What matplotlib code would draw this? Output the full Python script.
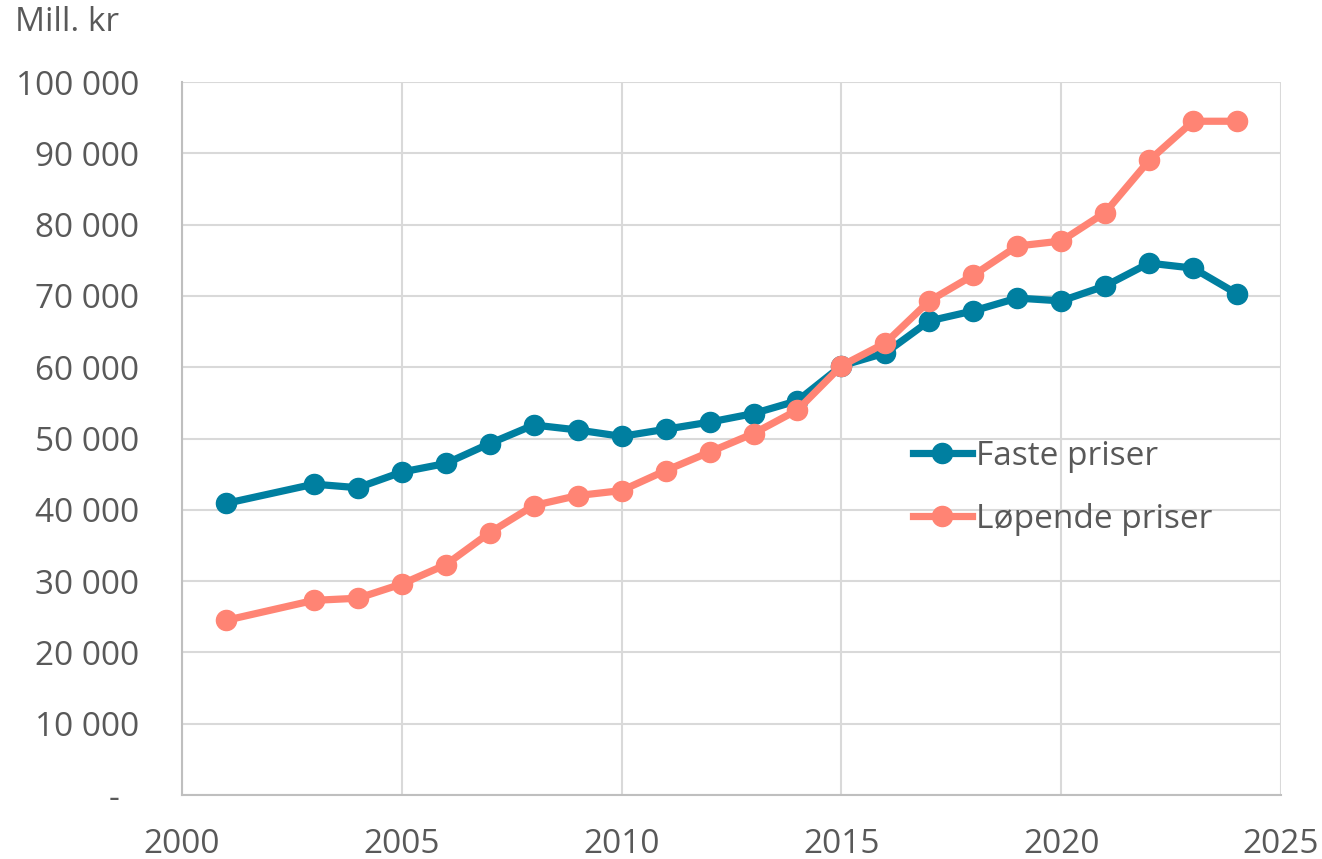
import matplotlib
matplotlib.use("Agg")
import matplotlib.pyplot as plt
from matplotlib.ticker import FuncFormatter

years = [2001, 2003, 2004, 2005, 2006, 2007, 2008, 2009, 2010, 2011, 2012, 2013,
         2014, 2015, 2016, 2017, 2018, 2019, 2020, 2021, 2022, 2023, 2024]
faste = [40900, 43600, 43100, 45300, 46500, 49300, 51900, 51200, 50300, 51300, 52300, 53500,
         55300, 60200, 62000, 66500, 67900, 69700, 69300, 71400, 74600, 73900, 70300]
lopende = [24500, 27300, 27600, 29600, 32300, 36800, 40600, 42000, 42700, 45500, 48100, 50700,
           54000, 60200, 63400, 69300, 72900, 77000, 77700, 81700, 89000, 94500, 94500]

teal = "#007FA0"
salmon = "#FF8474"
grey_text = "#595959"
grid_col = "#D9D9D9"

plt.rcParams['font.family'] = ['Open Sans', 'DejaVu Sans']

fig = plt.figure(figsize=(13.22, 8.59), dpi=100)
ax = fig.add_axes([0.1377, 0.0745, 0.8313, 0.83])

ax.plot(years, faste, color=teal, lw=5.2, marker='o', ms=14.5, label="Faste priser", zorder=3)
ax.plot(years, lopende, color=salmon, lw=5.2, marker='o', ms=14.5, label="Løpende priser", zorder=3)

ax.set_xlim(2000, 2025)
ax.set_ylim(0, 100000)
ax.set_xticks(range(2000, 2026, 5))
ax.set_yticks(range(0, 100001, 10000))

def fmt(v, pos):
    if v == 0:
        return "-\u2007"
    return f"{int(v):,}".replace(",", " ")

ax.yaxis.set_major_formatter(FuncFormatter(fmt))
ax.grid(True, color=grid_col, lw=1.5)
ax.set_axisbelow(True)
for s in ["top", "right"]:
    ax.spines[s].set_visible(False)
for s in ["left", "bottom"]:
    ax.spines[s].set_color("#BFBFBF")
    ax.spines[s].set_linewidth(1.5)

ax.tick_params(length=0, labelsize=24, colors=grey_text)
ax.tick_params(axis='y', pad=31)
ax.tick_params(axis='x', pad=24)

fig.text(0.011, 0.993, "Mill. kr", fontsize=24, color=grey_text, va='top', ha='left')

leg = ax.legend(loc='upper left', bbox_to_anchor=(0.638, 0.54), frameon=False,
                fontsize=24, handlelength=1.75, handletextpad=0.12, labelspacing=0.9,
                labelcolor=grey_text)

fig.savefig("out.png", dpi=100)
